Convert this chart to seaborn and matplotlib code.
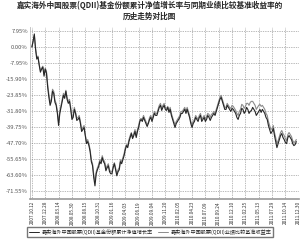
import matplotlib
matplotlib.use("Agg")
import matplotlib.pyplot as plt
import seaborn as sns
import pandas as pd
import numpy as np
from matplotlib.lines import Line2D

start_date = "2007-10-12"
step_days = 7

fund = [0, 3, 6.5, -1, -6, -5, -9, -12.5, -11, -10, -14.5, -11, -13, -20, -25, -29, -27, -22, -23, -27.5,
        -29, -33, -39, -33, -30, -27, -24, -25.5, -22, -26, -28, -27, -31, -36, -35, -31, -33, -36.5, -36, -35,
        -38, -42, -41, -40, -44, -48, -47, -49, -52, -57, -59, -65, -69, -63, -61, -59.5, -57, -58, -55, -57,
        -58, -61.5, -60, -59, -62, -63, -63, -60, -58, -61, -64, -62, -61, -57, -58, -56, -54, -51, -49, -50,
        -47, -45, -43, -45.5, -44, -42, -45, -42, -40, -37, -36, -37, -35, -36.5, -38, -39.5, -38, -36, -35, -37,
        -35, -33, -34, -34, -32, -30, -29, -31.5, -30, -29, -31, -31.5, -30, -32.5, -31, -34, -36, -38, -40, -38,
        -37, -36, -35, -33, -33, -32, -31, -33, -31, -33, -35, -38, -40, -38, -37, -35, -36, -37, -35, -34,
        -37, -36, -35, -37, -36, -34, -35, -36.5, -35, -34, -33, -34, -32, -30, -28, -26, -25, -27, -29, -31,
        -31, -29, -30, -31, -32, -30.5, -31, -32, -33, -35, -36, -34, -33, -30.5, -31, -33, -32, -30, -31, -33,
        -32, -31.5, -30, -31, -32, -34, -33, -32, -31, -32.5, -31, -32, -33, -35, -36, -39, -41, -43, -42, -40.5,
        -44, -47, -50, -48, -46, -44, -43, -45, -46, -47.5, -48, -45, -44, -45, -46, -48, -49, -48.5, -47]

bench = [0, 2.8, 5.8, -0.5, -5, -4.5, -8.5, -11.5, -10.5, -9.5, -13.5, -10.5, -12, -18.5, -23.5, -27.5, -26, -21, -22, -26.5,
         -28, -32, -37.5, -32, -29, -26, -23, -24.5, -21.5, -25, -27, -26, -30, -35, -34, -30, -32.5, -35.5, -35, -34,
         -37, -41, -40, -39, -43.5, -47, -46, -48, -51, -56, -58, -63.5, -67, -62, -60, -58.5, -56, -57, -54, -56,
         -57, -60.5, -59, -58, -61, -62, -62, -59, -57.5, -60, -63, -61, -60, -56, -57, -55, -53, -50, -48.5, -49,
         -46, -44, -42.5, -45, -43, -41, -44, -41, -39, -36, -35.5, -36, -34, -35.5, -37, -38.5, -37.5, -35, -34, -36,
         -34, -32, -33, -33, -31, -29, -28, -30.5, -29, -28, -30, -30.5, -29.5, -31.5, -30, -33, -35, -37, -38.5, -37,
         -36, -35, -34, -32, -32, -31, -30, -32, -30, -32, -34, -37, -38.5, -37, -36, -34, -35, -36, -34, -33,
         -36, -35, -34, -36, -34.5, -33, -33.5, -35, -33.5, -33, -32, -33, -31, -29, -27, -25, -24, -26, -28, -30,
         -30, -28, -29, -30, -30.5, -29, -29.5, -30.5, -31.5, -33, -34, -32, -31, -28.5, -29, -30.5, -29.5, -28, -28, -29,
         -27.5, -27, -27, -28, -29, -31, -30, -29, -28.5, -29.5, -29, -30, -31, -33, -34, -37, -39, -41, -40.5, -39,
         -42.5, -45, -48, -46.5, -44.5, -42.5, -41.5, -43, -44, -45.5, -46.5, -43.5, -42.5, -43.5, -44.5, -46.5, -47.5, -47, -46]

tick_labels = ["2007.10.12", "2007.12.28", "2008.03.14", "2008.05.30", "2008.08.15",
               "2008.10.31", "2009.01.16", "2009.04.03", "2009.06.19", "2009.09.04",
               "2009.11.20", "2010.02.05", "2010.04.23", "2010.07.09", "2010.09.24",
               "2010.12.10", "2011.02.25", "2011.05.13", "2011.07.29", "2011.10.14",
               "2011.12.30"]

y_ticks = [7.95, 0.00, -7.95, -15.90, -23.85, -31.80, -39.75, -47.70, -55.65, -63.60, -71.55]

name_fund = "嘉实海外中国股票(QDII)基金份额累计净值增长率"
name_bench = "嘉实海外中国股票(QDII)业绩比较基准收益率"
title = "嘉实海外中国股票(QDII)基金份额累计净值增长率与同期业绩比较基准收益率的\n历史走势对比图"

n = min(len(fund), len(bench))
dates = pd.to_datetime(start_date) + pd.to_timedelta(np.arange(n) * step_days, unit="D")
df = pd.DataFrame({
    "date": list(dates) * 2,
    "value": fund[:n] + bench[:n],
    "series": [name_fund] * n + [name_bench] * n,
})

sns.set_theme(style="white")
plt.rcParams['font.family'] = ['Noto Sans CJK SC', 'DejaVu Sans']
plt.rcParams['axes.unicode_minus'] = False

fig = plt.figure(figsize=(3.0, 2.42), dpi=100)
ax = fig.add_axes([0.1, 0.178, 0.897, 0.71])

sns.lineplot(data=df, x="date", y="value", hue="series",
             hue_order=[name_bench, name_fund],
             palette={name_fund: "#262626", name_bench: "#8c8c8c"},
             linewidth=0.8, ax=ax, legend=False)

tick_dates = pd.to_datetime([t.replace(".", "-") for t in tick_labels])
ax.set_xticks(tick_dates)
ax.set_xticklabels(tick_labels, rotation=90, fontsize=3.4, color="#333333")
ax.set_xlim(pd.to_datetime(start_date) - pd.Timedelta(days=11), tick_dates[-1] + pd.Timedelta(days=2))

ax.set_yticks(y_ticks)
ax.set_yticklabels([f"{v:.2f}%" for v in y_ticks], fontsize=4.2, color="#555555")
ax.set_ylim(-75.5, 9.9)

ax.grid(True, linestyle=(0, (1, 1.5)), color="#777777", linewidth=0.5)
ax.tick_params(axis="both", length=0, pad=1.5)
ax.set_xlabel("")
ax.set_ylabel("")
for s in ["top", "right"]:
    ax.spines[s].set_visible(False)
ax.spines["left"].set_color("#bbbbbb")
ax.spines["left"].set_linewidth(0.6)
ax.spines["bottom"].set_color("#999999")
ax.spines["bottom"].set_linewidth(1.2)

fig.text(0.5, 0.995, title, ha="center", va="top", fontsize=5.5, fontweight="bold",
         linespacing=1.25)

handles = [Line2D([0], [0], color="#262626", lw=0.7), Line2D([0], [0], color="#8c8c8c", lw=0.7)]
fig.legend(handles, [name_fund, name_bench], loc="center", bbox_to_anchor=(0.5, 0.043),
           ncol=2, fontsize=3.7, frameon=True, fancybox=False, edgecolor="#555555",
           handlelength=2.0, handletextpad=0.5, columnspacing=1.0, borderpad=0.4)

fig.savefig("out.png", dpi=100)
